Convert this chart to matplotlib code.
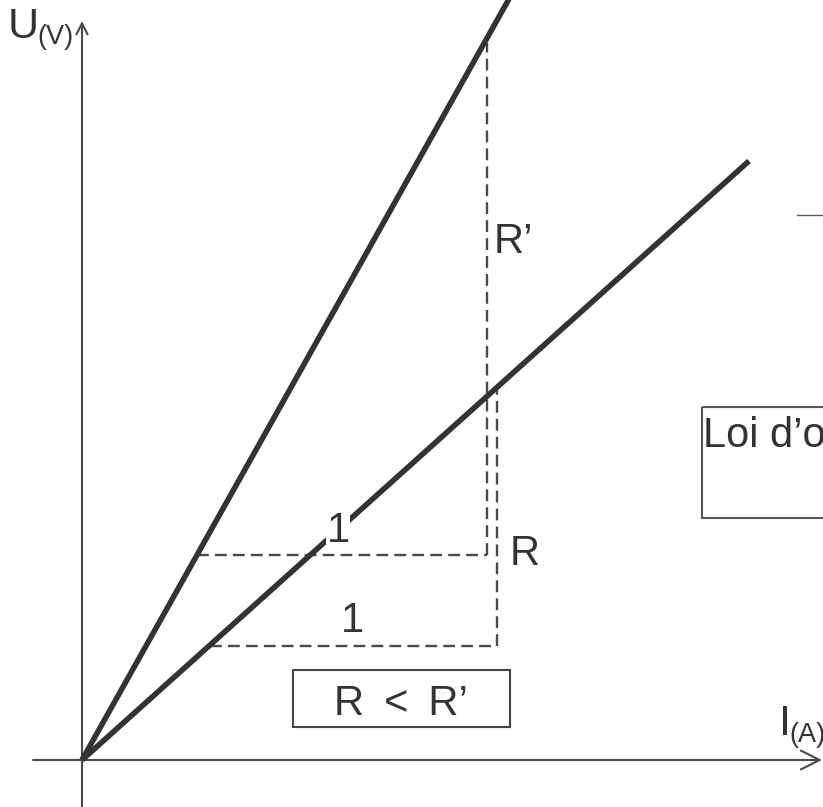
import matplotlib.pyplot as plt
from matplotlib.patches import Rectangle

plt.rcParams['font.family'] = ['Liberation Sans', 'DejaVu Sans']

# everything is placed in picture units (x to the right, y downwards)
origin = (82, 760)

# U = R'.I  (steep) and U = R.I (shallow)
steep_x = [82, 514]
steep_y = [760, -10]
shallow_x = [82, 749]
shallow_y = [760, 161]

# slope triangles
r2_h_x, r2_h_y = [197, 487], [555, 555]
r2_v_x, r2_v_y = [487, 487], [555, 43]
r1_h_x, r1_h_y = [210, 497], [646, 646]
r1_v_x, r1_v_y = [497, 497], [646, 390]

dark = '#333335'
axc = '#4a4a4c'

fig = plt.figure(figsize=(8.23, 8.07), dpi=100)
ax = fig.add_axes([0, 0, 1, 1])
ax.set_xlim(0, 823)
ax.set_ylim(807, 0)
ax.axis('off')

# axes with arrows
ax.annotate('', xy=(822, 760), xytext=(33, 760),
            arrowprops=dict(arrowstyle='->', mutation_scale=34, lw=1.5,
                            color=axc, shrinkA=0, shrinkB=0))
ax.annotate('', xy=(82, 21), xytext=(82, 807),
            arrowprops=dict(arrowstyle='->', mutation_scale=20, lw=1.5,
                            color=axc, shrinkA=0, shrinkB=0))

dash = (0, (5, 2.6))
for xs, ys in [(r2_h_x, r2_h_y), (r2_v_x, r2_v_y), (r1_h_x, r1_h_y), (r1_v_x, r1_v_y)]:
    ax.plot(xs, ys, color=axc, lw=1.7, linestyle=dash, zorder=2)

ax.plot(steep_x, steep_y, color=dark, lw=4, solid_capstyle='butt', zorder=3)
ax.plot(shallow_x, shallow_y, color=dark, lw=4, solid_capstyle='butt', zorder=3)

# short stray line on the right
ax.plot([797, 830], [215, 215], color='#555555', lw=1.0)

# labels
tc = '#333333'
ax.text(8, 38, 'U', fontsize=31, color=tc, ha='left', va='baseline')
ax.text(37, 44, '(V)', fontsize=19.5, color=tc, ha='left', va='baseline')
ax.text(779, 735, 'I', fontsize=31, color=tc, ha='left', va='baseline')
ax.text(789, 742, '(A)', fontsize=19.5, color=tc, ha='left', va='baseline')

ax.text(494, 253, 'R\u2019', fontsize=30, color=tc, ha='left', va='baseline')
ax.text(510, 565, 'R', fontsize=30, color=tc, ha='left', va='baseline')
ax.text(352, 632, '1', fontsize=30, color=tc, ha='center', va='baseline')
ax.text(338, 542, '1', fontsize=30, color=tc, ha='center', va='baseline', zorder=4,
        bbox=dict(facecolor='white', edgecolor='none', pad=0.5))

ax.add_patch(Rectangle((293, 670), 217, 57, fill=False, edgecolor='#444444', lw=1.5))
ax.text(401, 715, 'R \u2009<\u2009 R\u2019', fontsize=30, color=tc, ha='center', va='baseline')

ax.add_patch(Rectangle((702, 407), 200, 111, fill=False, edgecolor='#5a5454', lw=1.5,
                       clip_on=False))
ax.text(703, 447, 'Loi d\u2019ohm', fontsize=30, color=tc, ha='left', va='baseline')

fig.savefig('out.png', dpi=100)
